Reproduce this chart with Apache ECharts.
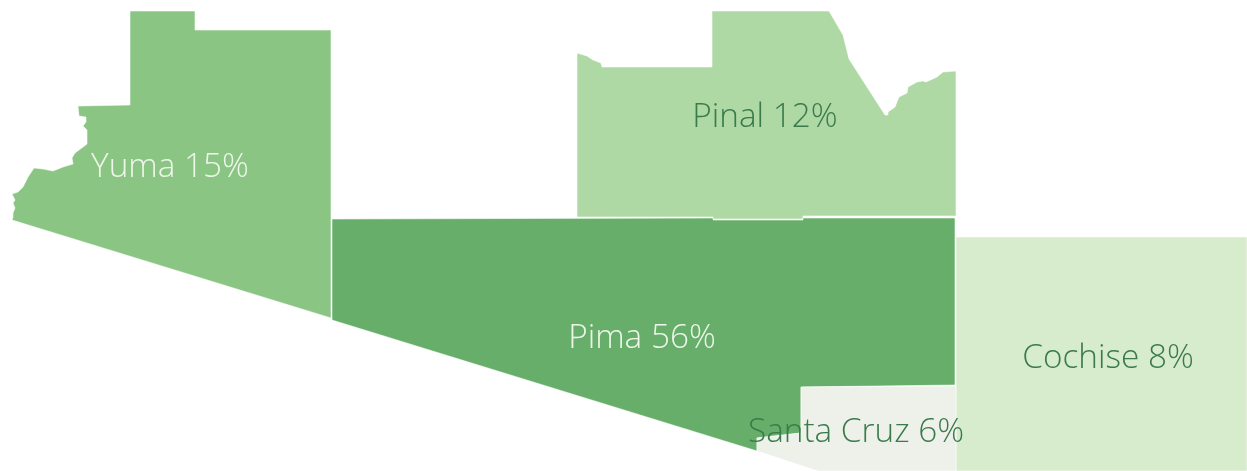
<!DOCTYPE html>
<html>
<head>
<meta charset="utf-8">
<script src="https://cdn.jsdelivr.net/npm/echarts@6/dist/echarts.min.js"></script>
<style>
  html, body { margin: 0; padding: 0; background: #fff; }
  #chart { width: 1247px; height: 471px; }
</style>
</head>
<body>
<div id="chart"></div>
<script>
const counties = ['Yuma', 'Pinal', 'Pima', 'Cochise', 'Santa Cruz']
const shares = [15, 12, 56, 8, 6]
const fills = ['#8bc584', '#afd9a4', '#67ae6b', '#d7ebcd', '#eef1ea']
const labelColors = ['#eef6ea', '#3a7a4b', '#eef6ea', '#3a7a4b', '#3a7a4b']
const labelPoints = [[170, 168], [765, 118], [642, 339], [1108, 359], [856, 433]]

// county outlines
const yumaRing = [[130, 11], [195, 11], [195, 30], [331, 30], [331, 318], [12, 220], [13, 217], [13, 213], [15, 208], [13, 203], [15, 200], [12, 194], [18, 192], [23, 187], [28, 177], [34, 168], [43, 169], [53, 171], [63, 167], [73, 164], [72, 158], [75, 153], [87, 144], [87, 130], [83, 126], [86, 122], [86, 117], [79, 116], [78, 106], [130, 105]]
const pinalRing = [[712, 11], [829, 11], [843, 35], [849, 59], [885, 115], [888, 115], [888, 112], [895, 107], [899, 97], [907, 93], [908, 87], [917, 82], [923, 81], [926, 82], [937, 77], [943, 72], [956, 71], [956, 216], [803, 216], [803, 219], [713, 219], [713, 217], [577, 217], [577, 53], [587, 56], [593, 60], [601, 63], [602, 67], [712, 67]]
const pimaRing = [[332, 219], [713, 218], [713, 220], [803, 220], [803, 218], [955, 218], [955, 385], [801, 387], [801, 433], [757, 438], [757, 451], [332, 320]]
const cochiseRing = [[956, 237], [1247, 237], [1247, 471], [956, 471]]
const santaCruzRing = [[801, 387], [956, 386], [956, 471], [818, 471], [757, 451], [757, 438], [801, 433]]
const rings = [yumaRing, pinalRing, pimaRing, cochiseRing, santaCruzRing]

const flipY = p => [p[0], 471 - p[1]]
const geoJson = {
  type: 'FeatureCollection',
  features: counties.map((name, i) => ({
    type: 'Feature',
    properties: { name, cp: flipY(labelPoints[i]) },
    geometry: { type: 'Polygon', coordinates: [rings[i].map(flipY)] }
  }))
}
echarts.registerMap('arizona', geoJson)

const chart = echarts.init(document.getElementById('chart'))
chart.setOption({
  animation: false,
  series: [
    {
      type: 'map',
      map: 'arizona',
      aspectScale: 1,
      roam: false,
      boundingCoords: [[0, 471], [1247, 0]],
      left: 0,
      top: 0,
      width: 1247,
      height: 471,
      selectedMode: false,
      itemStyle: { borderColor: 'rgba(255,255,255,0.55)', borderWidth: 1 },
      data: counties.map((name, i) => ({
        name,
        value: shares[i],
        itemStyle: { areaColor: fills[i] },
        label: { color: labelColors[i] }
      })),
      label: {
        show: true,
        fontFamily: 'Open Sans',
        fontWeight: 300,
        fontSize: 33.3,
        formatter: p => p.name + ' ' + p.value + '%'
      }
    }
  ]
})
</script>
</body>
</html>
